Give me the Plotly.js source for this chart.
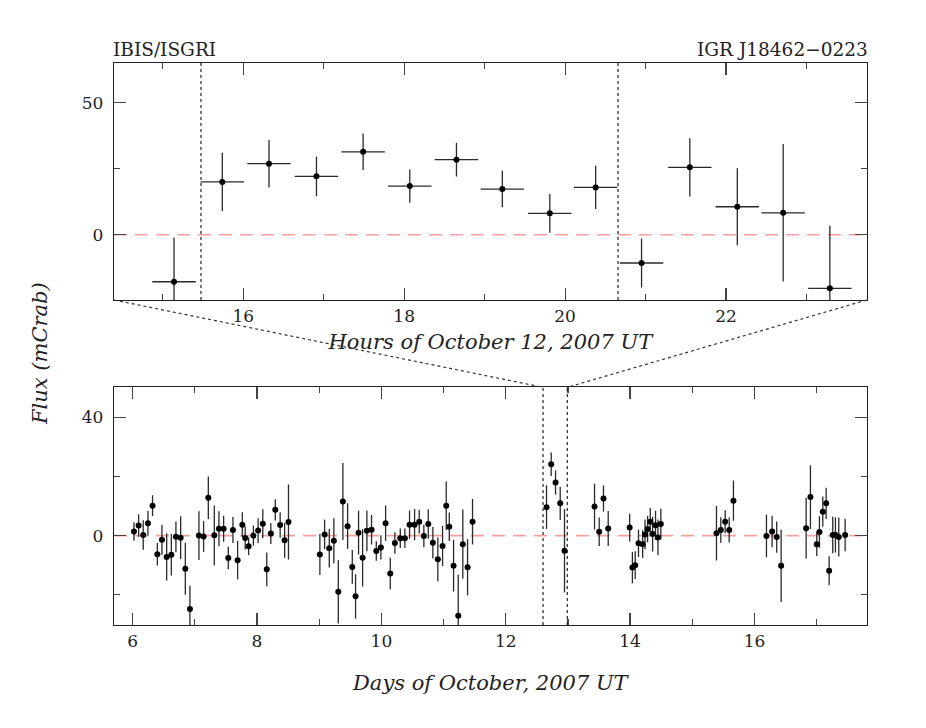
<!DOCTYPE html>
<html>
<head>
<meta charset="utf-8">
<script src="https://cdn.plot.ly/plotly-3.0.1.min.js"></script>
<style>html,body{margin:0;padding:0;background:#fff;}#chart{width:926px;height:728px;}</style>
</head>
<body>
<div id="chart"></div>
<script>
// ---- Top panel: hourly light curve, October 12, 2007 ----
const topHours = [15.14, 15.74, 16.32, 16.91, 17.49, 18.07, 18.65, 19.22, 19.81, 20.38, 20.95, 21.55, 22.14, 22.71, 23.29];
const topFlux  = [-17.8, 20.0, 26.9, 22.1, 31.4, 18.4, 28.4, 17.3, 8.1, 17.9, -10.7, 25.5, 10.6, 8.3, -20.3];
const topErr   = [16.8, 11.0, 9.0, 7.5, 6.9, 6.3, 6.4, 6.9, 7.3, 8.2, 9.3, 11.0, 14.6, 26.0, 23.7];
const topBinHalfWidth = 0.27;          // hours
const topMarkerHours = [15.475, 20.658]; // dotted lines in top panel
const zoomWindowHours = [14.394, 23.748];

// ---- Bottom panel: long-term light curve, days of October 2007 ----
const botDays = [6.021, 6.096, 6.170, 6.246, 6.320, 6.397, 6.471, 6.547, 6.622, 6.696, 6.772, 6.847, 6.921,
  7.066, 7.141, 7.217, 7.313, 7.388, 7.463, 7.538, 7.613, 7.688, 7.764, 7.810, 7.865, 7.942,
  8.018, 8.093, 8.157, 8.222, 8.294, 8.372, 8.444, 8.506,
  9.011, 9.087, 9.162, 9.236, 9.307, 9.381, 9.457, 9.532, 9.585, 9.633, 9.698, 9.767, 9.842, 9.918, 9.992,
  10.068, 10.143, 10.217, 10.304, 10.378, 10.453, 10.534, 10.609, 10.683, 10.754, 10.828, 10.908, 10.984,
  11.043, 11.092, 11.161, 11.236, 11.310, 11.386, 11.466,
  12.656, 12.731, 12.801, 12.876, 12.945,
  13.428, 13.503, 13.572, 13.648,
  13.993, 14.037, 14.082, 14.135, 14.202, 14.240, 14.281, 14.324, 14.362, 14.409, 14.448, 14.494,
  15.389, 15.459, 15.529, 15.594, 15.662,
  16.193, 16.284, 16.358, 16.429,
  16.831, 16.900, 17.002, 17.045, 17.099, 17.153, 17.201, 17.259, 17.302, 17.356, 17.458];
const botFlux = [1.4, 3.4, 0.2, 4.2, 10.1, -6.3, -1.4, -7.2, -6.5, -0.4, -0.7, -11.2, -24.8,
  0.0, -0.3, 12.8, 0.1, 2.3, 2.3, -7.6, 1.9, -8.3, 3.7, -0.8, -3.6, 0.0,
  1.7, 4.0, -11.4, 0.7, 8.7, 3.6, -1.6, 4.6,
  -6.4, 0.4, -4.3, -1.7, -19.0, 11.5, 3.2, -10.6, -20.5, 1.0, -7.5, 1.6, 2.0, -5.2, -4.0,
  4.2, -12.8, -2.5, -0.9, -0.9, 3.7, 3.7, 4.7, -0.1, 3.9, -2.4, -8.0, -3.5,
  10.1, 3.0, -10.2, -27.1, -2.9, -10.7, 4.7,
  9.6, 24.1, 17.9, 10.9, -5.1,
  9.8, 1.3, 12.5, 2.4,
  2.7, -10.8, -10.0, -2.6, -2.9, 0.4, 2.2, 4.7, 0.5, 3.5, -0.6, 3.9,
  0.8, 1.9, 4.7, 1.9, 11.8,
  -0.1, 1.4, -0.5, -10.2,
  2.5, 13.0, -2.9, 1.2, 8.1, 10.9, -11.9, 0.2, 0.2, -0.5, 0.2];
const botErr = [3.1, 3.8, 5.0, 4.2, 3.5, 3.8, 5.1, 8.0, 7.0, 5.2, 7.2, 8.8, 7.9,
  8.2, 5.2, 7.2, 10.1, 5.9, 4.4, 3.8, 4.4, 6.5, 4.2, 3.9, 3.0, 3.4,
  4.2, 4.9, 5.7, 3.5, 3.6, 4.3, 5.9, 12.7,
  6.9, 5.0, 6.5, 7.6, 10.7, 13.0, 7.7, 5.7, 7.5, 7.4, 9.7, 6.9, 5.0, 3.3, 4.1,
  6.0, 5.3, 3.6, 3.3, 3.3, 4.8, 5.3, 4.0, 3.8, 5.0, 5.3, 7.4, 6.8,
  8.2, 4.8, 8.7, 13.9, 11.7, 9.5, 7.7,
  7.4, 4.0, 4.1, 5.6, 14.1,
  7.7, 4.8, 4.4, 5.9,
  4.7, 5.3, 4.7, 4.6, 4.7, 5.0, 4.5, 4.6, 5.9, 4.9, 6.0, 5.2,
  9.2, 4.3, 3.9, 4.2, 6.8,
  7.2, 5.3, 5.3, 12.2,
  10.2, 10.8, 4.0, 5.3, 5.1, 5.3, 4.9, 6.2, 5.9, 6.6, 5.5];

// zoom window expressed in days of October
const zoomDays = zoomWindowHours.map(h => 12 + h / 24);

const serif = 'DejaVu Serif';
const errColor = '#2a2a2a';

const traces = [
  {
    type: 'scatter', mode: 'markers', xaxis: 'x', yaxis: 'y',
    x: topHours, y: topFlux,
    marker: {color: '#000', size: 6},
    error_y: {type: 'data', array: topErr, visible: true, color: errColor, thickness: 1.3, width: 0},
    error_x: {type: 'constant', value: topBinHalfWidth, visible: true, color: errColor, thickness: 1.3, width: 0},
    showlegend: false, hoverinfo: 'skip'
  },
  {
    type: 'scatter', mode: 'markers', xaxis: 'x2', yaxis: 'y2',
    x: botDays, y: botFlux,
    marker: {color: '#000', size: 6},
    error_y: {type: 'data', array: botErr, visible: true, color: errColor, thickness: 1.3, width: 0},
    showlegend: false, hoverinfo: 'skip'
  }
];

const xDom = [114 / 926, 866.7 / 926];
const topY = [1 - 300 / 728, 1 - 63 / 728];
const botY = [1 - 625 / 728, 1 - 387.3 / 728];

function axisBase(extra) {
  return Object.assign({
    showline: true, mirror: 'ticks', linecolor: '#222', linewidth: 1.3,
    ticks: 'inside', ticklen: 12, tickwidth: 1.2, tickcolor: '#444',
    showgrid: false, zeroline: false, automargin: false, fixedrange: true,
    tickfont: {family: serif, size: 17, color: '#222'}
  }, extra);
}

const titleFont = {family: serif, size: 21, color: '#222', style: 'italic'};
const labelFont = {family: serif, size: 18.5, color: '#222'};

const layout = {
  width: 926, height: 728,
  margin: {l: 0, r: 0, t: 0, b: 0},
  paper_bgcolor: '#fff', plot_bgcolor: '#fff',
  showlegend: false,
  xaxis: axisBase({
    domain: xDom, anchor: 'y', range: zoomWindowHours,
    tickmode: 'linear', tick0: 16, dtick: 2,
    minor: {ticks: 'inside', ticklen: 6, tickwidth: 1.2, tickcolor: '#444', dtick: 1, tick0: 15},
    title: {text: '<i>Hours of October 12, 2007 UT</i>', font: titleFont, standoff: 9}
  }),
  yaxis: axisBase({
    domain: topY, anchor: 'x', range: [-24.7, 65],
    tickmode: 'linear', tick0: 0, dtick: 50,
    minor: {ticks: 'inside', ticklen: 6, tickwidth: 1.2, tickcolor: '#444', dtick: 25, tick0: 0},
    ticklabelstandoff: 6
  }),
  xaxis2: axisBase({
    domain: xDom, anchor: 'y2', range: [5.70, 17.805],
    tickmode: 'linear', tick0: 6, dtick: 2,
    minor: {ticks: 'inside', ticklen: 6, tickwidth: 1.2, tickcolor: '#444', dtick: 1, tick0: 5},
    title: {text: '<i>Days of October, 2007 UT</i>', font: titleFont, standoff: 25}
  }),
  yaxis2: axisBase({
    domain: botY, anchor: 'x2', range: [-30.2, 50.1],
    tickmode: 'linear', tick0: 0, dtick: 40,
    minor: {ticks: 'inside', ticklen: 6, tickwidth: 1.2, tickcolor: '#444', dtick: 20, tick0: 0},
    ticklabelstandoff: 6
  }),
  shapes: [
    // zero reference lines
    {type: 'line', xref: 'x domain', yref: 'y', x0: 0, x1: 1, y0: 0, y1: 0, layer: 'below',
     line: {color: '#f4a0a0', width: 1.6, dash: '13px,8px'}},
    {type: 'line', xref: 'x2 domain', yref: 'y2', x0: 0, x1: 1, y0: 0, y1: 0, layer: 'below',
     line: {color: '#f4a0a0', width: 1.6, dash: '13px,8px'}},
    // dotted markers in top panel
    ...topMarkerHours.map(h => ({type: 'line', xref: 'x', yref: 'y domain', x0: h, x1: h, y0: 0, y1: 1,
      line: {color: '#222', width: 1.2, dash: 'dot'}})),
    // zoom window in bottom panel
    ...zoomDays.map(d => ({type: 'line', xref: 'x2', yref: 'y2 domain', x0: d, x1: d, y0: 0, y1: 1,
      line: {color: '#222', width: 1.2, dash: 'dot'}})),
    // connectors from top panel corners to zoom window
    {type: 'line', xref: 'x2', yref: 'paper', x0: 5.70, y0: topY[0], x1: zoomDays[0], y1: botY[1],
     line: {color: '#333', width: 1.2, dash: 'dot'}},
    {type: 'line', xref: 'x2', yref: 'paper', x0: 17.805, y0: topY[0], x1: zoomDays[1], y1: botY[1],
     line: {color: '#333', width: 1.2, dash: 'dot'}}
  ],
  annotations: [
    {text: 'IBIS/ISGRI', xref: 'paper', yref: 'paper', x: xDom[0], y: topY[1], xanchor: 'left', yanchor: 'bottom',
     xshift: -3, yshift: 1, showarrow: false, font: labelFont},
    {text: 'IGR J18462\u22120223', xref: 'paper', yref: 'paper', x: xDom[1], y: topY[1], xanchor: 'right', yanchor: 'bottom',
     xshift: 3, yshift: 1, showarrow: false, font: labelFont},
    {text: '<i>Flux (mCrab)</i>', xref: 'paper', yref: 'paper', x: 40 / 926, y: 1 - 354 / 728,
     xanchor: 'center', yanchor: 'middle', textangle: -90, showarrow: false, font: titleFont}
  ]
};

Plotly.newPlot('chart', traces, layout, {displayModeBar: false, staticPlot: true});
</script>
</body>
</html>
